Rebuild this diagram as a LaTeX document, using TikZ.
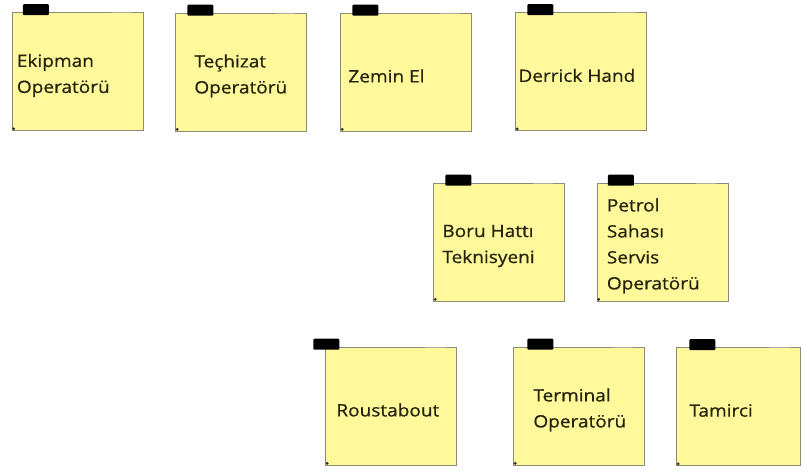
\documentclass[tikz,border=0pt]{standalone}
\usepackage{fontspec}
\setmainfont[FakeStretch=1.12,FakeBold=0.7]{Open Sans}
\usetikzlibrary{calc}
\definecolor{notefill}{HTML}{FFF99C}
\definecolor{noteedge}{HTML}{8C8B78}
\definecolor{notetext}{HTML}{24240C}
\tikzset{
  sticky/.style={
    rectangle, draw=noteedge, line width=0.6pt, fill=notefill,
    minimum width=131pt, minimum height=118pt, inner sep=0pt},
  notelabel/.style={text=notetext, align=left, inner sep=0pt,
    anchor=west, font=\fontsize{17}{26}\selectfont},
  tape/.style={rectangle, fill=black, minimum width=26pt,
    minimum height=11pt, inner sep=0pt, rounded corners=1pt},
  curl/.style={draw=noteedge!70, line width=1pt},
  pin/.style={circle, fill=black!85, inner sep=0pt, minimum size=3pt},
}
\begin{document}
\begin{tikzpicture}[x=1pt,y=-1pt]
\useasboundingbox (0,0) rectangle (802,473);

% top row
\node[sticky] (ekipman) at (77.5,71.5) {};
\node[sticky] (techizat) at (241,72) {};
\node[sticky] (zemin) at (406,72) {};
\node[sticky] (derrick) at (581,71.5) {};

% middle row
\node[sticky] (boru) at (499,242) {};
\node[sticky] (petrol) at (662.5,242) {};

% bottom row
\node[sticky] (roust) at (391,406) {};
\node[sticky] (terminal) at (579,406) {};
\node[sticky,minimum width=124pt] (tamirci) at (738.5,406.5) {};

% texts
\foreach \n/\dx/\txt in {ekipman/5/{Ekipman\\Operatörü},
    techizat/19/{Teçhizat\\Operatörü}, zemin/8/{Zemin El},
    derrick/3/{Derrick Hand}, boru/9/{Boru Hattı\\Teknisyeni},
    petrol/10/{Petrol\\Sahası\\Servis\\Operatörü},
    roust/11/{Roustabout}, terminal/20/{Terminal\\Operatörü},
    tamirci/13/{Tamirci}}
  \node[notelabel] (\n-text) at ($(\n.west)+(\dx,4)$) {\txt};

% tape, corner dot and curl on every note
\foreach \n/\dx in {ekipman/11, techizat/12, zemin/12, derrick/12,
    boru/12, petrol/11, roust/-12, terminal/14, tamirci/13} {
  \node[tape,anchor=west] (\n-tape) at ($(\n.north west)+(\dx,-2.5)$) {};
  \node[pin] (\n-pin) at ($(\n.south west)+(2,-2)$) {};
  \draw[curl] ($(\n.north east)+(-32,0.6)$) -- ($(\n.north east)+(-12,0.6)$);
}

\end{tikzpicture}
\end{document}
